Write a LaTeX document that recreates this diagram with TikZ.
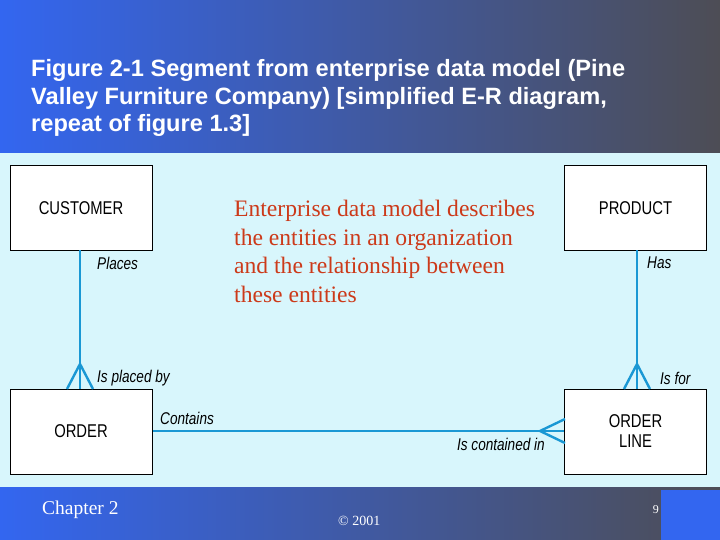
\documentclass[tikz,border=0pt]{standalone}
\usepackage{fontspec}
\setmainfont{Liberation Serif}
\newfontfamily\ttl{Liberation Sans}
\newfontfamily\cond[FakeStretch=0.8]{Liberation Sans}
\definecolor{blueA}{HTML}{3366F0}
\definecolor{grayA}{HTML}{4D4D55}
\definecolor{panel}{HTML}{D8F6FC}
\definecolor{lnk}{HTML}{1A98D4}
\definecolor{redt}{HTML}{CC3A1A}
\begin{document}
\begin{tikzpicture}[x=1pt,y=-1pt,
  ent/.style={draw=black,line width=1pt,fill=white,minimum width=142pt,minimum height=85pt,inner sep=0pt,font=\cond\fontsize{18.5}{22}\selectfont,align=center},
  rel/.style={draw=lnk,line width=2.4pt},
  lab/.style={font=\cond\itshape\fontsize{17}{19}\selectfont,inner sep=0pt}]
\useasboundingbox (0,0) rectangle (720,540);
\shade[left color=blueA,right color=grayA] (0,0) rectangle (720,153);
\shade[left color=blueA,right color=grayA] (0,487) rectangle (720,540);
\fill[blueA] (661,490) rectangle (720,540);
\fill[panel] (0,153) rectangle (720,487);
\node[anchor=west,text=white,font=\ttl\bfseries\fontsize{23.6}{27.5}\selectfont,align=left,inner sep=0pt] (title) at (31,98)
 {Figure 2-1 Segment from enterprise data model (Pine\\Valley Furniture Company) [simplified E-R diagram,\\repeat of figure 1.3]};
\node[ent] (cust) at (81,208) {CUSTOMER};
\node[ent] (prod) at (635.5,208) {PRODUCT};
\node[ent] (ord) at (81,431.5) {ORDER};
\node[ent] (ol) at (635.5,431.5) {ORDER\\[-2pt]LINE};
\coordinate (cl) at (80,250);
\coordinate (ca) at (80,364);
\coordinate (pl) at (637,250);
\coordinate (pa) at (637,364);
\coordinate (ha) at (540,431);
\draw[rel] (cl) -- (80,389);
\draw[rel] (67,389) -- (ca) -- (93,389);
\draw[rel] (pl) -- (637,389);
\draw[rel] (624,389) -- (pa) -- (650,389);
\draw[rel] (ord.east |- 0,431) -- (ol.west |- 0,431);
\draw[rel] (565,419) -- (ha) -- (565,443);
\node[lab,anchor=west] (l1) at (97,263) {Places};
\node[lab,anchor=west] (l2) at (97,378) {Is placed by};
\node[lab,anchor=west] (l3) at (647,263) {Has};
\node[lab,anchor=west] (l4) at (660,378) {Is for};
\node[lab,anchor=west] (l5) at (160,418) {Contains};
\node[lab,anchor=east] (l6) at (545,444) {Is contained in};
\node[anchor=west,text=redt,font=\fontsize{23.6}{28.8}\selectfont,align=left,inner sep=0pt] (desc) at (234,251.5)
 {Enterprise data model describes\\the entities in an organization\\and the relationship between\\these entities};
\node[anchor=west,text=white,font=\fontsize{19.5}{20}\selectfont,inner sep=0pt] (ch) at (42,510) {Chapter 2};
\node[anchor=west,text=white,font=\fontsize{14}{15}\selectfont,inner sep=0pt] (cp) at (338,521) {© 2001};
\node[anchor=east,text=white,font=\fontsize{12}{14}\selectfont,inner sep=0pt] (pg) at (659,510) {9};
\end{tikzpicture}
\end{document}
